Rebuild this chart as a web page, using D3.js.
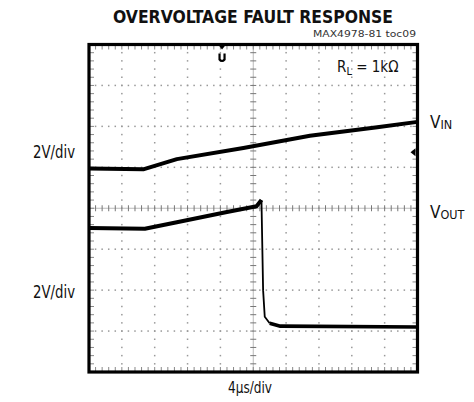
<!DOCTYPE html>
<html>
<head>
<meta charset="utf-8">
<script src="https://cdn.jsdelivr.net/npm/d3@7"></script>
<style>
  body { margin: 0; background: #fff; }
  svg text { font-family: "Liberation Sans Narrow", "DejaVu Sans Condensed", "Arial Narrow", sans-serif; fill: #111; }
</style>
</head>
<body>
<div class="scope"></div>
<script>
// time in us (10 div x 4us), level in divisions from bottom (8 div)
const vinTime  = [0, 6.6, 10.7, 18.8, 26.9, 35.1, 40];
const vinLevel = [4.97, 4.95, 5.20, 5.47, 5.77, 5.98, 6.11];

const voutTime  = [0, 6.8, 10.7, 16.8, 20.4, 21.0, 21.2, 21.4, 22.0, 23.3, 40];
const voutLevel = [3.52, 3.50, 3.66, 3.91, 4.05, 4.20, 2.0, 1.35, 1.19, 1.12, 1.10];

const xDivs = 10, yDivs = 8, usPerDiv = 4;
const scaleLabels = ["2V/div", "2V/div"];
const trigTime = 16.2, trigLevel = 5.37;

const svg_width = 474, svg_height = 402;
const box = {left: 89, right: 417.5, top: 44.5, bottom: 372};

const svg = d3.select('.scope').append('svg')
  .attr('width', svg_width).attr('height', svg_height);

const xScale = d3.scaleLinear([0, xDivs * usPerDiv], [box.left, box.right]);
const yScale = d3.scaleLinear([0, yDivs], [box.bottom, box.top]);

//grid dots
const grid = svg.append('g').attr('class', 'grid').attr('fill', '#999');
const minorX = d3.range(1, xDivs * 5).map(i => i * usPerDiv / 5);
const minorY = d3.range(1, yDivs * 5).map(i => i / 5);

d3.range(1, xDivs).filter(i => i !== xDivs / 2).forEach(i => {
  grid.selectAll(null).data(minorY).enter().append('rect')
    .attr('x', xScale(i * usPerDiv) - 0.75).attr('y', d => yScale(d) - 0.75)
    .attr('width', 1.5).attr('height', 1.5);
});
d3.range(1, yDivs).filter(j => j !== yDivs / 2).forEach(j => {
  grid.selectAll(null).data(minorX).enter().append('rect')
    .attr('x', d => xScale(d) - 0.75).attr('y', yScale(j) - 0.75)
    .attr('width', 1.5).attr('height', 1.5);
});

//center cross with ticks
const cx = xScale(xDivs * usPerDiv / 2), cy = yScale(yDivs / 2);
const cross = svg.append('g').attr('stroke', '#777').attr('stroke-width', 1);
cross.append('line').attr('x1', cx).attr('x2', cx).attr('y1', box.top).attr('y2', box.bottom).attr('stroke', '#bbb');
cross.append('line').attr('y1', cy).attr('y2', cy).attr('x1', box.left).attr('x2', box.right).attr('stroke', '#bbb');
cross.selectAll('.vt').data(minorY).enter().append('line')
  .attr('x1', cx - 3).attr('x2', cx + 3).attr('y1', d => yScale(d)).attr('y2', d => yScale(d));
cross.selectAll('.ht').data(minorX).enter().append('line')
  .attr('y1', cy - 3).attr('y2', cy + 3).attr('x1', d => xScale(d)).attr('x2', d => xScale(d));

//border ticks
const bt = svg.append('g').attr('stroke', '#888').attr('stroke-width', 1);
minorX.forEach(d => {
  bt.append('line').attr('x1', xScale(d)).attr('x2', xScale(d)).attr('y1', box.top).attr('y2', box.top + 5);
  bt.append('line').attr('x1', xScale(d)).attr('x2', xScale(d)).attr('y1', box.bottom).attr('y2', box.bottom - 5);
});
minorY.forEach(d => {
  bt.append('line').attr('y1', yScale(d)).attr('y2', yScale(d)).attr('x1', box.left).attr('x2', box.left + 5);
  bt.append('line').attr('y1', yScale(d)).attr('y2', yScale(d)).attr('x1', box.right).attr('x2', box.right - 5);
});

//traces
const line = d3.line().x(d => xScale(d[0])).y(d => yScale(d[1]));
const vin = d3.zip(vinTime, vinLevel);
const vout = d3.zip(voutTime, voutLevel);
svg.append('path').datum(vin).attr('d', line)
  .attr('fill', 'none').attr('stroke', '#000').attr('stroke-width', 4).attr('stroke-linejoin', 'round');
svg.append('path').datum(vout.slice(0, 6)).attr('d', line)
  .attr('fill', 'none').attr('stroke', '#000').attr('stroke-width', 4).attr('stroke-linejoin', 'round');
svg.append('path').datum(vout.slice(5, 9)).attr('d', line)
  .attr('fill', 'none').attr('stroke', '#000').attr('stroke-width', 1.8);
svg.append('path').datum(vout.slice(8)).attr('d', line)
  .attr('fill', 'none').attr('stroke', '#000').attr('stroke-width', 3.6).attr('stroke-linejoin', 'round');

//frame
svg.append('rect').attr('x', box.left).attr('y', box.top)
  .attr('width', box.right - box.left).attr('height', box.bottom - box.top)
  .attr('fill', 'none').attr('stroke', '#000').attr('stroke-width', 3.2);

//trigger markers
const trigX = xScale(trigTime);
svg.append('path').attr('d', `M${trigX - 4},${box.top} L${trigX + 4},${box.top} L${trigX},${box.top + 5} Z`).attr('fill', '#000');
svg.append('path').attr('d', `M${trigX - 2.5},${box.top + 9} V${box.top + 15} Q${trigX},${box.top + 18} ${trigX + 2.5},${box.top + 15} V${box.top + 9}`)
  .attr('fill', 'none').attr('stroke', '#000').attr('stroke-width', 2.2);
const trigY = yScale(trigLevel);
svg.append('path').attr('d', `M${box.right - 2},${trigY - 4} L${box.right - 2},${trigY + 4} L${box.right - 7},${trigY} Z`).attr('fill', '#000');

//labels
svg.append('text').attr('x', 113).attr('y', 23)
  .attr('textLength', 280).attr('lengthAdjust', 'spacingAndGlyphs')
  .style('font-size', '18.5px').style('font-weight', 'bold')
  .text('OVERVOLTAGE FAULT RESPONSE');
svg.append('text').attr('x', 313).attr('y', 37)
  .attr('textLength', 103).attr('lengthAdjust', 'spacingAndGlyphs')
  .style('font-size', '8.5px').style('fill', '#333')
  .text('MAX4978-81 toc09');

const rl = svg.append('text').attr('x', 337).attr('y', 72).style('font-size', '15px');
rl.append('tspan').text('R');
rl.append('tspan').attr('dy', 3).style('font-size', '11px').text('L');
rl.append('tspan').attr('dy', -3).text(' = 1k\u03A9');

const vinLab = svg.append('text').attr('x', 430).attr('y', 128).style('font-size', '17px');
vinLab.append('tspan').text('V');
vinLab.append('tspan').attr('dy', 1).style('font-size', '12.5px').text('IN');
const voutLab = svg.append('text').attr('x', 430).attr('y', 218).style('font-size', '17px');
voutLab.append('tspan').text('V');
voutLab.append('tspan').attr('dy', 1).style('font-size', '12.5px').text('OUT');

svg.selectAll('.scale-label').data(scaleLabels).enter().append('text')
  .attr('class', 'scale-label')
  .attr('x', 33).attr('y', (d, i) => i === 0 ? 158 : 298)
  .attr('textLength', 42).attr('lengthAdjust', 'spacingAndGlyphs')
  .style('font-size', '17px')
  .text(d => d);

svg.append('text').attr('x', 228).attr('y', 393)
  .attr('textLength', 44).attr('lengthAdjust', 'spacingAndGlyphs')
  .style('font-size', '16px')
  .text('4\u00B5s/div');
</script>
</body>
</html>
